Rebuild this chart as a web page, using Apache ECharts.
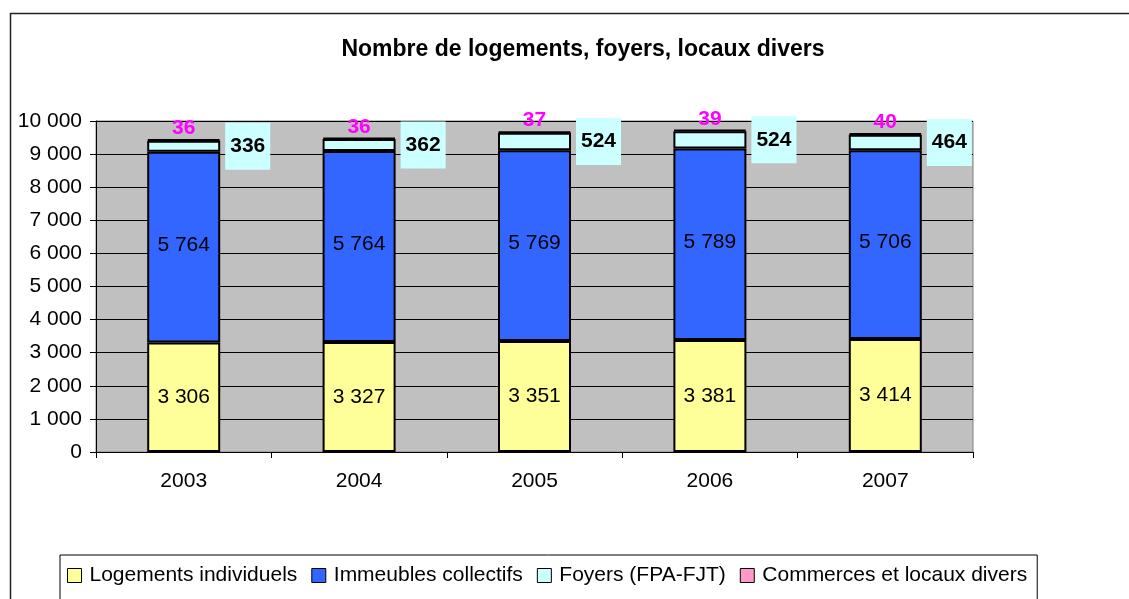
<!DOCTYPE html>
<html>
<head>
<meta charset="utf-8">
<script src="https://cdn.jsdelivr.net/npm/echarts@6/dist/echarts.min.js"></script>
<style>
  html, body { margin: 0; padding: 0; background: #fff; }
  #chart { width: 1129px; height: 599px; }
</style>
</head>
<body>
<div id="chart"></div>
<script>
  // données
  var annees = ['2003', '2004', '2005', '2006', '2007'];
  var individuels = [3306, 3327, 3351, 3381, 3414];
  var collectifs = [5764, 5764, 5769, 5789, 5706];
  var foyers = [336, 362, 524, 524, 464];
  var commerces = [36, 36, 37, 39, 40];

  var police = 'Liberation Sans, Arial, sans-serif';

  function milliers(v) {
    return String(v).replace(/\B(?=(\d{3})+(?!\d))/g, ' ');
  }

  var chart = echarts.init(document.getElementById('chart'));
  chart.setOption({
    animation: false,
    textStyle: { fontFamily: police },
    title: {
      text: 'Nombre de logements, foyers, locaux divers',
      left: 578, top: 33, textAlign: 'center',
      textStyle: { fontSize: 23, fontWeight: 'bold', color: '#000', fontFamily: police }
    },
    graphic: [{
      type: 'rect', silent: true, z: -1,
      shape: { x: 10.5, y: 13.5, width: 1140, height: 620 },
      style: { fill: 'none', stroke: '#222', lineWidth: 1.5 }
    }],
    legend: {
      left: 60, top: 555,
      padding: [10, 10, 30, 7],
      itemWidth: 14, itemHeight: 14, itemGap: 14,
      borderColor: '#000', borderWidth: 1,
      icon: 'rect',
      itemStyle: { borderColor: '#000', borderWidth: 1 },
      textStyle: { fontSize: 21, color: '#000', fontFamily: police, padding: [0, 0, 0, 3] },
      data: ['Logements individuels', 'Immeubles collectifs', 'Foyers (FPA-FJT)', 'Commerces et locaux divers']
    },
    grid: {
      left: 96, right: 156, top: 121, bottom: 147,
      show: true, backgroundColor: '#c0c0c0', borderColor: '#808080', borderWidth: 1
    },
    xAxis: {
      type: 'category',
      data: annees,
      axisLine: { lineStyle: { color: '#000', width: 1 } },
      axisTick: { show: true, length: 6, lineStyle: { color: '#000' } },
      axisLabel: { fontSize: 21, color: '#000', margin: 19, fontFamily: police }
    },
    yAxis: {
      type: 'value', min: 0, max: 10000, interval: 1000,
      axisLine: { show: true, lineStyle: { color: '#000', width: 1 } },
      axisTick: { show: true, length: 6, lineStyle: { color: '#000' } },
      axisLabel: { fontSize: 21, color: '#000', margin: 14, fontFamily: police, formatter: milliers },
      splitLine: { lineStyle: { color: '#000', width: 1 } }
    },
    series: [
      {
        name: 'Logements individuels', type: 'bar', stack: 't', barWidth: 73,
        data: individuels,
        itemStyle: { color: '#ffff99', borderColor: '#000', borderWidth: 2 },
        label: { show: true, position: 'inside', fontSize: 21, color: '#000', formatter: function (p) { return milliers(p.value); } }
      },
      {
        name: 'Immeubles collectifs', type: 'bar', stack: 't',
        data: collectifs,
        itemStyle: { color: '#3366ff', borderColor: '#000', borderWidth: 2 },
        label: { show: true, position: 'inside', offset: [0, -2], fontSize: 21, color: '#000', formatter: function (p) { return milliers(p.value); } }
      },
      {
        name: 'Foyers (FPA-FJT)', type: 'bar', stack: 't',
        data: foyers,
        itemStyle: { color: '#ccffff', borderColor: '#000', borderWidth: 2 },
        label: {
          show: true, position: 'right', distance: 5,
          fontSize: 21, fontWeight: 'bold', color: '#000',
          backgroundColor: '#ccffff', padding: [13, 5, 13, 5]
        }
      },
      {
        name: 'Commerces et locaux divers', type: 'bar', stack: 't',
        data: commerces,
        itemStyle: { color: '#ff99cc', borderColor: '#000', borderWidth: 2 },
        label: {
          show: true, position: 'top', distance: 0,
          fontSize: 21, fontWeight: 'bold', color: '#ff00ff'
        }
      }
    ]
  });
</script>
</body>
</html>
